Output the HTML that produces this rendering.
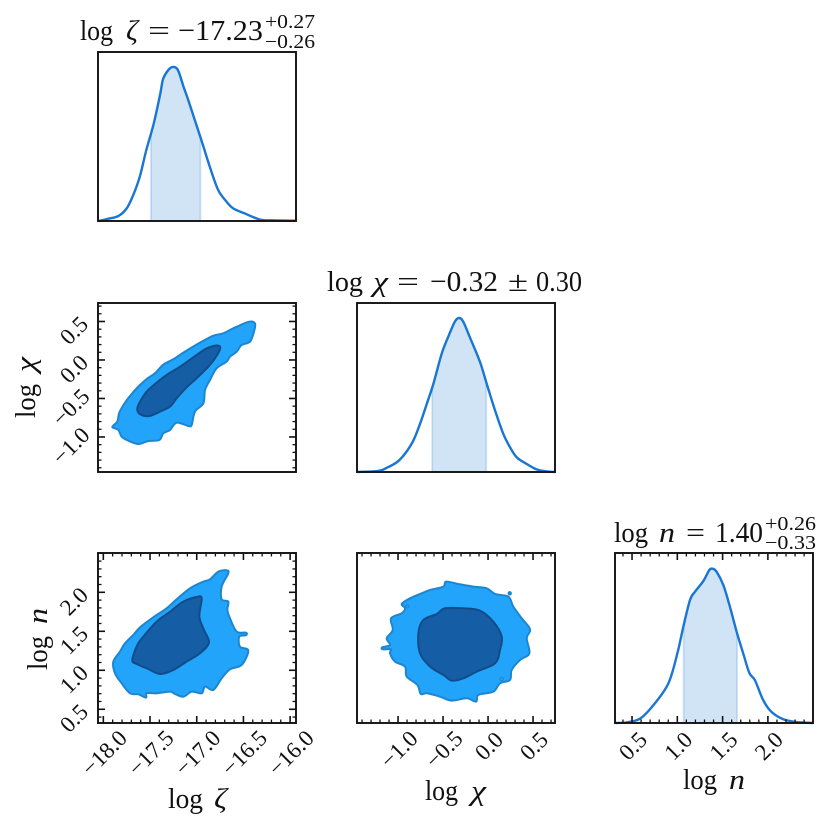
<!DOCTYPE html>
<html lang="en">
<head>
<meta charset="utf-8">
<title>Corner plot</title>
<style>
html,body{margin:0;padding:0;background:#fff;}
svg{display:block;}
text{font-family:"Liberation Serif","DejaVu Serif",serif;fill:#111;}
.i{font-style:italic;}
.t{font-size:29px;}
.s{font-size:20px;}
.k{font-size:23px;}
</style>
</head>
<body>
<svg id="chart" xmlns="http://www.w3.org/2000/svg" width="831" height="829" viewBox="0 0 831 829">
  <rect x="0" y="0" width="831" height="829" fill="#fff"/>
  <g id="marks"></g>

  <g>
    <text class="t" y="40"><tspan x="80" textLength="33" lengthAdjust="spacingAndGlyphs">log</tspan><tspan class="i" x="126" textLength="12" lengthAdjust="spacingAndGlyphs">ζ</tspan><tspan x="148" textLength="22" lengthAdjust="spacingAndGlyphs">=</tspan><tspan x="178" textLength="85" lengthAdjust="spacingAndGlyphs">−17.23</tspan></text>
    <text class="s" x="265" y="28" textLength="50" lengthAdjust="spacingAndGlyphs">+0.27</text>
    <text class="s" x="265" y="48" textLength="50" lengthAdjust="spacingAndGlyphs">−0.26</text>
  </g>
  <g>
    <text class="t" y="291"><tspan x="327" textLength="36" lengthAdjust="spacingAndGlyphs">log</tspan><tspan class="i" x="373" textLength="15" lengthAdjust="spacingAndGlyphs">χ</tspan><tspan x="397" textLength="22" lengthAdjust="spacingAndGlyphs">=</tspan><tspan x="430" textLength="68" lengthAdjust="spacingAndGlyphs">−0.32</tspan><tspan x="508" textLength="20" lengthAdjust="spacingAndGlyphs">±</tspan><tspan x="536" textLength="46" lengthAdjust="spacingAndGlyphs">0.30</tspan></text>
  </g>
  <g>
    <text class="t" y="542"><tspan x="614" textLength="34" lengthAdjust="spacingAndGlyphs">log</tspan><tspan class="i" x="659" textLength="16" lengthAdjust="spacingAndGlyphs">n</tspan><tspan x="686" textLength="19" lengthAdjust="spacingAndGlyphs">=</tspan><tspan x="715" textLength="48" lengthAdjust="spacingAndGlyphs">1.40</tspan></text>
    <text class="s" x="765" y="530" textLength="51" lengthAdjust="spacingAndGlyphs">+0.26</text>
    <text class="s" x="765" y="549" textLength="51" lengthAdjust="spacingAndGlyphs">−0.33</text>
  </g>

  <text class="t" y="808"><tspan x="168" textLength="35" lengthAdjust="spacingAndGlyphs">log</tspan><tspan class="i" x="214" textLength="13" lengthAdjust="spacingAndGlyphs">ζ</tspan></text>
  <text class="t" y="800"><tspan x="425" textLength="33" lengthAdjust="spacingAndGlyphs">log</tspan><tspan class="i" x="471" textLength="15" lengthAdjust="spacingAndGlyphs">χ</tspan></text>
  <text class="t" y="789"><tspan x="683" textLength="34" lengthAdjust="spacingAndGlyphs">log</tspan><tspan class="i" x="729" textLength="16" lengthAdjust="spacingAndGlyphs">n</tspan></text>
  <text class="t" transform="translate(35,418) rotate(-90)"><tspan x="0" textLength="34" lengthAdjust="spacingAndGlyphs">log</tspan><tspan class="i" x="46" textLength="15" lengthAdjust="spacingAndGlyphs">χ</tspan></text>
  <text class="t" transform="translate(47,670) rotate(-90)"><tspan x="0" textLength="34" lengthAdjust="spacingAndGlyphs">log</tspan><tspan class="i" x="46" textLength="16" lengthAdjust="spacingAndGlyphs">n</tspan></text>
</svg>

<script>
// ---- Tick labels ----
const zetaTicks = ["−18.0", "−17.5", "−17.0", "−16.5", "−16.0"];
const chiTicks = ["−1.0", "−0.5", "0.0", "0.5"];
const nTicks = ["0.5", "1.0", "1.5", "2.0"];

// ---- Marginal densities (normalised to peak) ----
const zetaGrid = [-18.05,-17.96,-17.84,-17.75,-17.68,-17.61,-17.54,-17.46,-17.39,-17.36,-17.30,-17.25,-17.20,-17.14,-17.09,-17.02,-16.95,-16.86,-16.77,-16.68,-16.61,-16.47,-16.32,-16.18,-15.94];
const zetaDensity = [0,.013,.032,.082,.168,.287,.460,.633,.827,.922,.983,1,.978,.870,.784,.654,.525,.352,.201,.125,.082,.045,.009,.004,.002];
const zetaBand = [-17.49, -16.96];

const chiGrid = [-1.455,-1.22,-1.13,-1.01,-.92,-.83,-.756,-.68,-.607,-.515,-.44,-.367,-.319,-.274,-.2,-.089,-.015,.078,.17,.244,.319,.43,.54,.65,.744];
const chiDensity = [0,.007,.026,.065,.121,.204,.312,.443,.573,.768,.881,.978,1,.974,.872,.714,.573,.399,.247,.161,.095,.052,.017,.004,0];
const chiBand = [-.62, -.02];

const nGrid = [.316,.44,.588,.735,.90,1.0,1.066,1.14,1.195,1.287,1.353,1.39,1.434,1.508,1.581,1.655,1.728,1.795,1.857,1.949,2.041,2.17,2.317,2.498];
const nDensity = [0,.004,.028,.115,.255,.45,.623,.797,.851,.92,.991,1,.98,.894,.753,.591,.45,.325,.277,.147,.071,.024,.006,0];
const nBand = [1.07, 1.66];

// ---- Contour: zeta vs chi ----
const zetaChiOuterX = [-17.904,-17.85,-17.829,-17.768,-17.697,-17.625,-17.536,-17.447,-17.358,-17.251,-17.126,-16.965,-16.822,-16.715,-16.608,-16.448,-16.376,-16.387,-16.43,-16.519,-16.572,-16.644,-16.68,-16.787,-16.858,-16.911,-16.929,-17.019,-17.054,-17.09,-17.215,-17.286,-17.358,-17.40,-17.518,-17.625,-17.732,-17.804,-17.839];
const zetaChiOuterY = [-.870,-.80,-.684,-.554,-.442,-.346,-.247,-.173,-.061,.009,.108,.225,.316,.346,.411,.494,.476,.368,.238,.195,.108,.043,-.022,-.108,-.26,-.39,-.563,-.671,-.844,-.857,-.814,-.909,-.952,-1.039,-1.052,-1.091,-1.048,-.996,-.909];
const zetaChiInnerX = [-17.636,-17.607,-17.536,-17.447,-17.322,-17.179,-17.036,-16.911,-16.822,-16.758,-16.751,-16.804,-16.876,-17.001,-17.108,-17.215,-17.286,-17.393,-17.5,-17.572,-17.625];
const zetaChiInnerY = [-.628,-.541,-.411,-.312,-.195,-.087,.035,.139,.182,.182,.139,.022,-.087,-.238,-.355,-.498,-.606,-.671,-.727,-.723,-.684];

// ---- Contour: zeta vs n ----
const zetaNOuterX = [-17.893,-17.822,-17.768,-17.679,-17.607,-17.465,-17.322,-17.215,-17.072,-16.929,-16.858,-16.769,-16.68,-16.662,-16.733,-16.733,-16.662,-16.672,-16.644,-16.572,-16.473,-16.473,-16.544,-16.537,-16.448,-16.519,-16.644,-16.733,-16.822,-16.911,-16.947,-17.054,-17.143,-17.233,-17.286,-17.429,-17.536,-17.543,-17.625,-17.714,-17.804,-17.875];
const zetaNOuterY = [1.111,1.239,1.346,1.453,1.551,1.679,1.795,1.91,2.051,2.137,2.167,2.265,2.282,2.244,2.073,1.91,1.88,1.774,1.667,1.496,1.483,1.449,1.432,1.303,1.252,1.068,1.013,.897,.748,.791,.705,.726,.662,.697,.726,.705,.705,.65,.692,.705,.833,.962];
const zetaNInnerX = [-17.69,-17.636,-17.572,-17.429,-17.286,-17.143,-17.001,-16.947,-16.972,-16.922,-16.869,-16.965,-17.108,-17.251,-17.393,-17.536,-17.643];
const zetaNInnerY = [1.132,1.325,1.432,1.624,1.752,1.88,1.94,1.923,1.688,1.517,1.355,1.218,1.111,1.004,.953,1.026,1.081];

// ---- Contour: chi vs n ----
const chiNOuterX = [-1.174,-1.089,-1.126,-1.059,-1.078,-.959,-.922,-.959,-.867,-.737,-.644,-.496,-.467,-.33,-.163,-.015,.078,.226,.281,.374,.467,.43,.459,.356,.263,.244,.133,.059,-.107,-.133,-.237,-.404,-.533,-.681,-.748,-.785,-.904,-.922,-1.033,-1.089,-1.078,-1.17];
const chiNOuterY = [1.295,1.325,1.41,1.517,1.667,1.731,1.795,1.85,1.923,1.987,2.03,2.073,2.137,2.107,2.073,2.051,1.979,1.944,1.816,1.667,1.526,1.41,1.218,1.132,1.004,.876,.833,.726,.684,.598,.641,.611,.662,.705,.697,.812,.919,1.047,1.111,1.218,1.269,1.269];
const chiNInnerX = [-.774,-.719,-.57,-.478,-.274,-.089,.059,.152,.133,.078,-.126,-.274,-.404,-.496,-.644,-.756];
const chiNInnerY = [1.474,1.645,1.722,1.795,1.795,1.765,1.624,1.432,1.261,1.09,.983,.897,.868,.94,1.047,1.218];
const chiNIslandX = [.241, .152, -.896];
const chiNIslandY = [1.987, .889, 1.82];

// ---- Axis functions ----
function scale(d0, d1, r0, r1) {
  return function (v) { return r0 + (v - d0) * (r1 - r0) / (d1 - d0); };
}
const col1 = [98, 296], col2 = [357, 555], col3 = [615, 813];
const row1 = [221, 52], row2 = [472, 303], row3 = [723, 553];
const xZeta = scale(-18.057, -15.937, col1[0], col1[1]);
const xChi = scale(-1.456, 0.744, col2[0], col2[1]);
const xN = scale(0.312, 2.498, col3[0], col3[1]);
const yChi = scale(-1.455, 0.74, row2[0], row2[1]);
const yN = scale(0.324, 2.504, row3[0], row3[1]);
const yDens1 = scale(0, 1.097, row1[0], row1[1]);
const yDens2 = scale(0, 1.097, row2[0], row2[1]);
const yDens3 = scale(0, 1.102, row3[0], row3[1]);

const NS = "http://www.w3.org/2000/svg";
const root = document.getElementById("marks");
function make(tag, attrs, parent) {
  const el = document.createElementNS(NS, tag);
  for (const k in attrs) el.setAttribute(k, attrs[k]);
  (parent || root).appendChild(el);
  return el;
}
const fmt = function (v) { return v.toFixed(2); };

function smoothPath(pts, closed) {
  const n = pts.length;
  const at = function (i) {
    if (closed) return pts[(i + n) % n];
    return pts[Math.max(0, Math.min(n - 1, i))];
  };
  let d = "M" + fmt(pts[0][0]) + " " + fmt(pts[0][1]);
  const last = closed ? n : n - 1;
  for (let i = 0; i < last; i++) {
    const p0 = at(i - 1), p1 = at(i), p2 = at(i + 1), p3 = at(i + 2);
    d += "C" + fmt(p1[0] + (p2[0] - p0[0]) / 6) + " " + fmt(p1[1] + (p2[1] - p0[1]) / 6) + " " +
      fmt(p2[0] - (p3[0] - p1[0]) / 6) + " " + fmt(p2[1] - (p3[1] - p1[1]) / 6) + " " +
      fmt(p2[0]) + " " + fmt(p2[1]);
  }
  return d + (closed ? "Z" : "");
}

function interp(grid, vals, x) {
  for (let i = 0; i < grid.length - 1; i++) {
    if (x >= grid[i] && x <= grid[i + 1]) {
      return vals[i] + (vals[i + 1] - vals[i]) * (x - grid[i]) / (grid[i + 1] - grid[i]);
    }
  }
  return 0;
}

function drawDensity(name, grid, vals, band, xs, ys) {
  const g = make("g", {});
  
  
  const bandX = [band[0]], bandY = [interp(grid, vals, band[0])];
  grid.forEach(function (x, i) {
    if (x > band[0] && x < band[1]) { bandX.push(x); bandY.push(vals[i]); }
  });
  bandX.push(band[1]);
  bandY.push(interp(grid, vals, band[1]));
  const top = bandX.map(function (x, i) { return fmt(xs(x)) + "," + fmt(ys(bandY[i])); });
  const poly = make("polygon", {
    points: fmt(xs(band[0])) + "," + fmt(ys(0)) + " " + top.join(" ") + " " + fmt(xs(band[1])) + "," + fmt(ys(0)),
    fill: "rgba(25,118,210,0.2)", stroke: "rgba(25,118,210,0.2)", "stroke-width": 1.8
  }, g);
  
  
  const pts = grid.map(function (x, i) { return [xs(x), ys(vals[i])]; });
  const line = make("path", {
    d: smoothPath(pts, false), fill: "none", stroke: "#1976d2", "stroke-width": 2.4, "stroke-linejoin": "round"
  }, g);
  
  
}

function drawContour(name, outerX, outerY, innerX, innerY, xs, ys) {
  const g = make("g", {});
  
  
  const outer = make("path", {
    d: smoothPath(outerX.map(function (x, i) { return [xs(x), ys(outerY[i])]; }), true),
    fill: "#22a4fb", stroke: "#1c86d0", "stroke-width": 2, "stroke-linejoin": "round"
  }, g);
  
  
  const inner = make("path", {
    d: smoothPath(innerX.map(function (x, i) { return [xs(x), ys(innerY[i])]; }), true),
    fill: "#155ea6", stroke: "#104c88", "stroke-width": 2, "stroke-linejoin": "round"
  }, g);
  
  
  return g;
}

function tickValue(label) { return parseFloat(label.replace("−", "-")); }

function minorValues(domainLo, domainHi) {
  const out = [];
  for (let i = Math.ceil(domainLo * 10); i <= Math.floor(domainHi * 10); i++) out.push(i / 10);
  return out;
}

function tickLine(parent, x1, y1, x2, y2, major) {
  const t = make("line", {
    x1: fmt(x1), y1: fmt(y1), x2: fmt(x2), y2: fmt(y2), stroke: "#111", "stroke-width": major ? 1.6 : 1.3
  }, parent);
  
  
}

function xTicks(name, xs, lo, hi, labels, row, showLabels) {
  const g = make("g", {});
  
  
  const majors = labels.map(tickValue);
  minorValues(lo, hi).forEach(function (v) {
    const isMajor = majors.some(function (m) { return Math.abs(m - v) < 1e-6; });
    const len = isMajor ? 7 : 3.5;
    tickLine(g, xs(v), row[0], xs(v), row[0] - len, isMajor);
    tickLine(g, xs(v), row[1], xs(v), row[1] + len, isMajor);
  });
  if (showLabels) {
    labels.forEach(function (lab) {
      const cx = xs(tickValue(lab)) + 1;
      const cy = row[0] + 23 + (lab.length - 3) * 3.5;
      const t = make("text", {
        class: "k", "text-anchor": "middle", "dominant-baseline": "central",
        transform: "translate(" + fmt(cx) + "," + fmt(cy) + ") rotate(-45)"
      }, g);
      
      
      t.textContent = lab;
    });
  }
}

function yTicks(name, ys, lo, hi, labels, col) {
  const g = make("g", {});
  
  
  const majors = labels.map(tickValue);
  minorValues(lo, hi).forEach(function (v) {
    const isMajor = majors.some(function (m) { return Math.abs(m - v) < 1e-6; });
    const len = isMajor ? 7 : 3.5;
    tickLine(g, col[0], ys(v), col[0] + len, ys(v), isMajor);
    tickLine(g, col[1], ys(v), col[1] - len, ys(v), isMajor);
  });
  labels.forEach(function (lab) {
    const cx = 74 - (lab.length - 3) * 3;
    const cy = ys(tickValue(lab)) + 9;
    const t = make("text", {
      class: "k", "text-anchor": "middle", "dominant-baseline": "central",
      transform: "translate(" + fmt(cx) + "," + fmt(cy) + ") rotate(-45)"
    }, g);
    
    
    t.textContent = lab;
  });
}

function frame(name, col, row) {
  const r = make("rect", {
    x: col[0], y: row[1], width: col[1] - col[0], height: row[0] - row[1],
    fill: "none", stroke: "#111", "stroke-width": 1.9
  });
  
  
}

// ---- Draw ----
drawDensity("zeta", zetaGrid, zetaDensity, zetaBand, xZeta, yDens1);
frame("zeta-panel", col1, row1);

drawDensity("chi", chiGrid, chiDensity, chiBand, xChi, yDens2);
frame("chi-panel", col2, row2);

drawDensity("n", nGrid, nDensity, nBand, xN, yDens3);
xTicks("n-panel", xN, 0.312, 2.498, nTicks, row3, true);
frame("n-panel", col3, row3);

drawContour("zeta-chi", zetaChiOuterX, zetaChiOuterY, zetaChiInnerX, zetaChiInnerY, xZeta, yChi);
yTicks("zeta-chi-panel", yChi, -1.455, 0.74, chiTicks, col1);
frame("zeta-chi-panel", col1, row2);

drawContour("zeta-n", zetaNOuterX, zetaNOuterY, zetaNInnerX, zetaNInnerY, xZeta, yN);
xTicks("zeta-n-panel", xZeta, -18.057, -15.937, zetaTicks, row3, true);
yTicks("zeta-n-panel", yN, 0.324, 2.504, nTicks, col1);
frame("zeta-n-panel", col1, row3);

const chiNGroup = drawContour("chi-n", chiNOuterX, chiNOuterY, chiNInnerX, chiNInnerY, xChi, yN);
chiNIslandX.forEach(function (x, i) {
  const dot = make("circle", {
    cx: fmt(xChi(x)), cy: fmt(yN(chiNIslandY[i])), r: 1.7,
    fill: i === 0 ? "#1c86d0" : "none", stroke: "#1c86d0", "stroke-width": 1
  }, chiNGroup);
  
  
});
xTicks("chi-n-panel", xChi, -1.456, 0.744, chiTicks, row3, true);
frame("chi-n-panel", col2, row3);
</script>
</body>
</html>
